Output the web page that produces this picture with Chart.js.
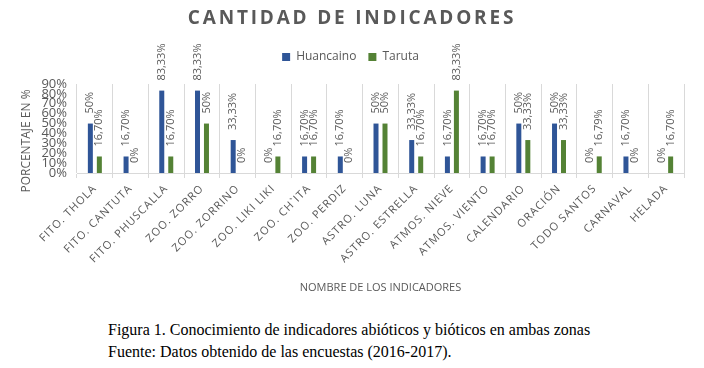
<!DOCTYPE html>
<html><head><meta charset="utf-8">
<script src="https://cdn.jsdelivr.net/npm/chart.js@4"></script>
<style>
html,body{margin:0;padding:0;background:#fff;}
#wrap{position:relative;width:704px;height:368px;overflow:hidden;}
#c{position:absolute;left:0;top:0;}
#cap{position:absolute;left:108px;top:319px;font-family:"Liberation Serif","Times New Roman",serif;font-size:16px;line-height:22px;color:#000;white-space:nowrap;}
</style></head><body>
<div id="wrap">
<canvas id="c" width="704" height="305"></canvas>
<div id="cap">Figura 1. Conocimiento de indicadores abióticos y bióticos en ambas zonas<br>Fuente: Datos obtenido de las encuestas (2016-2017).</div>
</div>
<script>
const chartTitle = 'CANTIDAD DE INDICADORES';
const xAxisTitle = 'NOMBRE DE LOS INDICADORES';
const yAxisTitle = 'PORCENTAJE EN %';
const seriesNames = ['Huancaino', 'Taruta'];
const categories = ['FITO. THOLA','FITO. CANTUTA','FITO. PHUSCALLA','ZOO. ZORRO','ZOO. ZORRINO','ZOO. LIKI LIKI','ZOO. CH`ITA','ZOO. PERDIZ','ASTRO. LUNA','ASTRO. ESTRELLA','ATMOS. NIEVE','ATMOS. VIENTO','CALENDARIO','ORACIÓN','TODO SANTOS','CARNAVAL','HELADA'];
const huancaino = [50,16.70,83.33,83.33,33.33,0,16.70,16.70,50,33.33,16.70,16.70,50,50,0,16.70,0];
const taruta = [16.70,0,16.70,50,0,16.70,16.70,0,50,16.70,83.33,16.70,33.33,33.33,16.79,0,16.70];
const yTicks = [0,10,20,30,40,50,60,70,80,90];

const GRAY = '#595959';
const FONT = '"Open Sans", "Liberation Sans", sans-serif';
function fmt(v){ return Number.isInteger(v) ? v + '%' : v.toFixed(2).replace('.', ',') + '%'; }

const helperPlugin = {
  id: 'helper',
  beforeLayout(chart){
    const lg = chart.legend;
    if (lg && !lg._patched){
      const f = lg.fit;
      lg.fit = function(){ f.call(this); this.height += 11; };
      lg._patched = true;
    }
  },
  beforeDraw(chart){
    const sx = chart.scales.x;
    if (sx && !sx._patched){
      const o = Object.getPrototypeOf(sx).drawLabels;
      sx.drawLabels = function(a){ this.ctx.save(); this.ctx.letterSpacing = '1px'; o.call(this, a); this.ctx.restore(); };
      sx._patched = true;
    }
    const ctx = chart.ctx;
    ctx.save();
    ctx.fillStyle = GRAY;
    ctx.font = 'bold 19px ' + FONT;
    ctx.letterSpacing = '2.8px';
    ctx.textAlign = 'center';
    ctx.textBaseline = 'middle';
    ctx.fillText(chartTitle, chart.width / 2, 19);
    ctx.restore();
    // y axis title
    ctx.save();
    ctx.fillStyle = GRAY;
    ctx.font = '12px ' + FONT;
    ctx.textAlign = 'center';
    ctx.textBaseline = 'middle';
    ctx.translate(27, 141);
    ctx.rotate(-Math.PI / 2);
    ctx.fillText(yAxisTitle, 0, 0);
    ctx.restore();
  },
  afterDatasetsDraw(chart){
    const ctx = chart.ctx;
    ctx.save();
    ctx.fillStyle = GRAY;
    ctx.font = '11px ' + FONT;
    ctx.textAlign = 'left';
    ctx.textBaseline = 'middle';
    chart.data.datasets.forEach((ds, i) => {
      const meta = chart.getDatasetMeta(i);
      meta.data.forEach((bar, j) => {
        ctx.save();
        ctx.translate(bar.x, bar.y - 10);
        ctx.rotate(-Math.PI / 2);
        ctx.fillText(fmt(ds.data[j]), 0, 0);
        ctx.restore();
      });
    });
    ctx.restore();
  }
};

new Chart(document.getElementById('c'), {
  type: 'bar',
  data: {
    labels: categories,
    datasets: [
      { label: seriesNames[0], data: huancaino, backgroundColor: '#2F5597', categoryPercentage: 0.504, barPercentage: 0.556 },
      { label: seriesNames[1], data: taruta, backgroundColor: '#548235', categoryPercentage: 0.504, barPercentage: 0.556 }
    ]
  },
  options: {
    responsive: false,
    animation: false,
    devicePixelRatio: 1,
    layout: { padding: { top: 39, left: 17, right: 20, bottom: 7 } },
    plugins: {
      title: { display: false },
      tooltip: { enabled: false },
      legend: {
        position: 'top',
        labels: { boxWidth: 8, boxHeight: 8, padding: 12, color: GRAY, font: { size: 12, family: FONT } }
      }
    },
    scales: {
      x: {
        grid: { display: true, color: '#d9d9d9', offset: true, tickLength: 5, drawTicks: true },
        border: { display: true, color: '#d9d9d9' },
        ticks: { minRotation: 45, maxRotation: 45, autoSkip: false, color: GRAY, padding: 4, font: { size: 11, family: FONT } },
        title: { display: true, text: xAxisTitle, color: GRAY, font: { size: 11, family: FONT }, padding: { top: 4, bottom: 4 } },
        afterFit(s){ s.height = 125; }
      },
      y: {
        min: 0, max: 90,
        grid: { display: false, drawTicks: false },
        border: { display: false },
        afterBuildTicks(s){ s.ticks = yTicks.map(v => ({ value: v })); },
        ticks: { autoSkip: false, color: GRAY, padding: 10, font: { size: 13, family: FONT }, callback: v => v + '%' },
        title: { display: false },
        afterFit(s){ s.width = 60; }
      }
    }
  },
  plugins: [helperPlugin]
});
</script>
</body></html>
